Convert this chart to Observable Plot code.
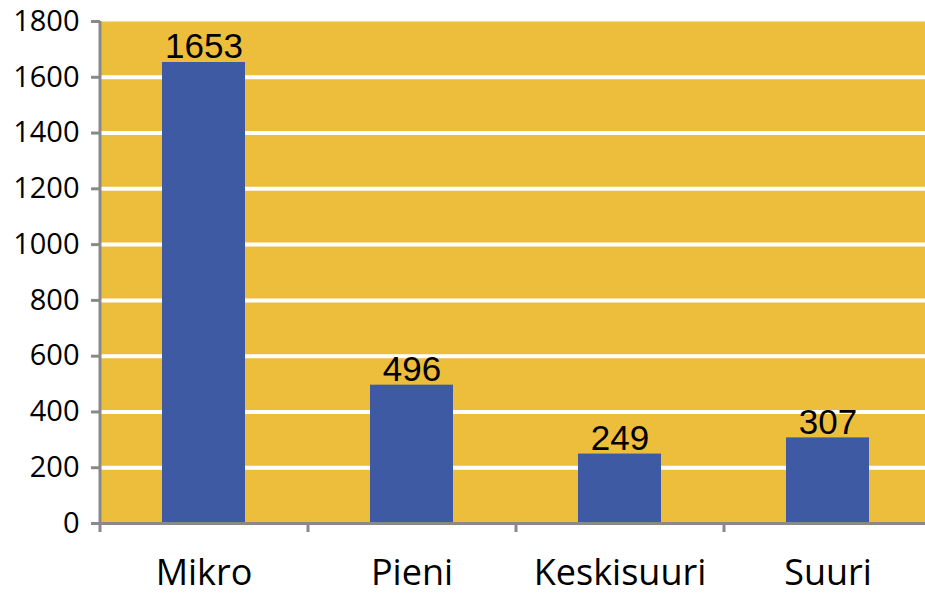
<!DOCTYPE html>
<html>
<head>
<meta charset="utf-8">
<script src="https://cdn.jsdelivr.net/npm/d3@7"></script>
<script src="https://cdn.jsdelivr.net/npm/@observablehq/plot@0.6"></script>
<style>
  html, body { margin: 0; padding: 0; background: #ffffff; }
  #chart { width: 925px; height: 596px; }
</style>
</head>
<body>
<div id="chart"></div>
<script>
const categories = ["Mikro", "Pieni", "Keskisuuri", "Suuri"];
const values = [1653, 496, 249, 307];
const yTicks = [0, 200, 400, 600, 800, 1000, 1200, 1400, 1600, 1800];

const data = categories.map((c, i) => ({cat: c, value: values[i]}));

const gold = "#ECBE3C";
const blue = "#3D5AA3";
const gray = "#898989";
const xRange = [100, 932];
const step = (xRange[1] - xRange[0]) / categories.length;

const chart = Plot.plot({
  width: 925,
  height: 596,
  marginLeft: 100,
  marginRight: 0,
  marginTop: 21,
  marginBottom: 73,
  style: {background: "#ffffff", color: "#000000", fontFamily: "'Open Sans', sans-serif", overflow: "visible"},
  x: {domain: categories, range: xRange, paddingInner: 0.6, paddingOuter: 0.3, label: null},
  y: {domain: [0, 1800], range: [523, 21], label: null},
  marks: [
    Plot.frame({fill: gold, stroke: null}),
    Plot.ruleY(yTicks.filter(t => t > 0 && t < 1800), {stroke: "#ffffff", strokeWidth: 4}),
    Plot.barY(data, {x: "cat", y: "value", fill: blue}),
    Plot.text(data, {x: "cat", y: "value", text: d => String(d.value), dy: -4, lineAnchor: "bottom", fontSize: 35, fontFamily: "'Liberation Sans', Arial, sans-serif", fill: "#000000"}),
    Plot.ruleY([0], {stroke: gray, strokeWidth: 3}),
    Plot.ruleX([categories[0]], {y1: 0, y2: 1800, dx: -step / 2, stroke: gray, strokeWidth: 3}),
    Plot.axisY({ticks: yTicks, tickFormat: d => String(d), tickSize: 9, tickPadding: 12, stroke: gray, strokeWidth: 3, fontSize: 29, fill: "#000000", label: null}),
    Plot.axisX({tickSize: 9, dx: -step / 2, text: null, stroke: gray, strokeWidth: 3, label: null}),
    Plot.axisX({tickSize: 0, tickPadding: 36, fontSize: 36, fill: "#000000", label: null})
  ]
});
document.getElementById("chart").appendChild(chart);
</script>
</body>
</html>
